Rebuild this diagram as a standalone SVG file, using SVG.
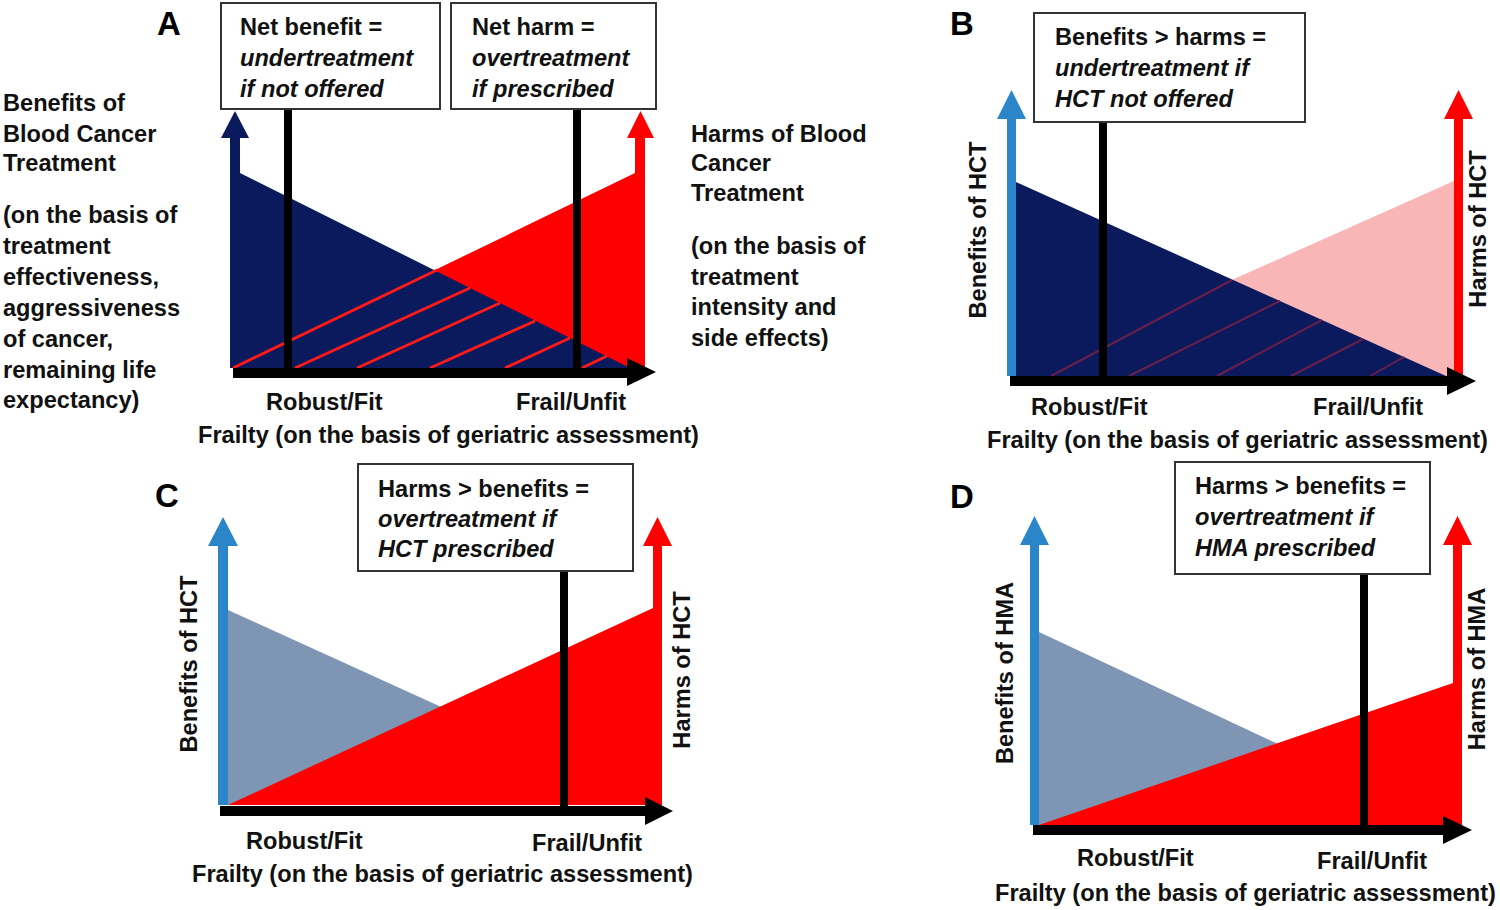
<svg xmlns="http://www.w3.org/2000/svg" width="1500" height="910" viewBox="0 0 1500 910">
<style>
.t{font-family:"Liberation Sans",Arial,Helvetica,sans-serif;font-weight:bold;font-size:23.6px;fill:#111}
.i{font-style:italic}
.lbl{font-family:"Liberation Sans",Arial,Helvetica,sans-serif;font-weight:bold;font-size:33px;fill:#000}
.box{fill:#fff;stroke:#333;stroke-width:2}
.stem{stroke:#000;stroke-width:8}
.axis{stroke:#000;stroke-width:10}
.navy{fill:#0a1a5c}
.red{fill:#ff0000}
.lblue{fill:#2a86c8}
.gblue{fill:#7f95b4}
.pink{fill:#f9b6b6}
.hatchA{stroke:#ff1a1a;stroke-width:3}
.hatchB{stroke:#6a1e4c;stroke-width:2}
</style>
<rect width="1500" height="910" fill="#fff"/>

<!-- Panel A -->
<g id="panelA">
  <text class="lbl" x="157" y="35">A</text>
  <g id="A-harms-area">
    <polygon class="red" points="635,138 645,138 645,368 233,368 635,173"/>
    <polygon class="red" points="627,138 654,138 640.5,111"/>
  </g>
  <g id="A-benefits-area">
    <polygon class="navy" points="230,138 240,138 240,173 630,368 230,368"/>
    <polygon class="navy" points="221,138 249,138 235,111"/>
  </g>
  <g id="A-hatch">
    <line class="hatchA" x1="233" y1="368" x2="437" y2="270"/>
    <line class="hatchA" x1="295" y1="368" x2="470" y2="288"/>
    <line class="hatchA" x1="357" y1="368" x2="500" y2="303"/>
    <line class="hatchA" x1="430" y1="368" x2="535" y2="321"/>
    <line class="hatchA" x1="505" y1="368" x2="570" y2="338"/>
    <line class="hatchA" x1="582" y1="368" x2="607" y2="356"/>
  </g>
  <g id="A-connectors">
    <line class="stem" x1="288" y1="109" x2="288" y2="369"/>
    <line class="stem" x1="577" y1="109" x2="577" y2="369"/>
    <line class="axis" x1="233" y1="373" x2="628" y2="373"/>
    <polygon points="627,358 627,386 656,372" fill="#000"/>
  </g>
  <g id="A-box-benefit">
    <rect class="box" x="221" y="3" width="219" height="106"/>
    <text class="t" x="240" y="35">Net benefit =</text>
    <text class="t i" x="240" y="66">undertreatment</text>
    <text class="t i" x="240" y="97">if not offered</text>
  </g>
  <g id="A-box-harm">
    <rect class="box" x="451" y="3" width="205" height="106"/>
    <text class="t" x="472" y="35">Net harm =</text>
    <text class="t i" x="472" y="66">overtreatment</text>
    <text class="t i" x="472" y="97">if prescribed</text>
  </g>
  <g id="A-left-label">
    <text class="t" x="3" y="111">Benefits of</text>
    <text class="t" x="3" y="142">Blood Cancer</text>
    <text class="t" x="3" y="171">Treatment</text>
    <text class="t" x="3" y="223">(on the basis of</text>
    <text class="t" x="3" y="254">treatment</text>
    <text class="t" x="3" y="285">effectiveness,</text>
    <text class="t" x="3" y="316">aggressiveness</text>
    <text class="t" x="3" y="347">of cancer,</text>
    <text class="t" x="3" y="378">remaining life</text>
    <text class="t" x="3" y="408">expectancy)</text>
  </g>
  <g id="A-right-label">
    <text class="t" x="691" y="142">Harms of Blood</text>
    <text class="t" x="691" y="171">Cancer</text>
    <text class="t" x="691" y="201">Treatment</text>
    <text class="t" x="691" y="254">(on the basis of</text>
    <text class="t" x="691" y="285">treatment</text>
    <text class="t" x="691" y="315">intensity and</text>
    <text class="t" x="691" y="346">side effects)</text>
  </g>
  <g id="A-axis-labels">
    <text class="t" x="266" y="410">Robust/Fit</text>
    <text class="t" x="516" y="410">Frail/Unfit</text>
    <text class="t" x="198" y="443">Frailty (on the basis of geriatric assessment)</text>
  </g>
</g>

<!-- Panel B -->
<g id="panelB">
  <text class="lbl" x="950" y="35">B</text>
  <g id="B-harms-area">
    <polygon class="pink" points="1016,376 1454,181 1454,376"/>
    <rect class="red" x="1454" y="119" width="9" height="257"/>
    <polygon class="red" points="1444,119 1473,119 1458.5,90"/>
  </g>
  <g id="B-benefits-area">
    <rect class="lblue" x="1007" y="119" width="9" height="257"/>
    <polygon class="lblue" points="997,119 1026,119 1011.5,90"/>
    <polygon class="navy" points="1016,182 1446,376 1016,376"/>
  </g>
  <g id="B-hatch">
    <line class="hatchB" x1="1051" y1="376" x2="1232" y2="280"/>
    <line class="hatchB" x1="1129" y1="376" x2="1280" y2="301"/>
    <line class="hatchB" x1="1217" y1="376" x2="1322" y2="320"/>
    <line class="hatchB" x1="1291" y1="376" x2="1363" y2="339"/>
    <line class="hatchB" x1="1370" y1="376" x2="1404" y2="357"/>
  </g>
  <g id="B-connectors">
    <line class="stem" x1="1103" y1="123" x2="1103" y2="377"/>
    <line class="axis" x1="1010" y1="381" x2="1448" y2="381"/>
    <polygon points="1447,367 1447,395 1476,381" fill="#000"/>
  </g>
  <g id="B-box">
    <rect class="box" x="1034" y="13" width="271" height="109"/>
    <text class="t" x="1055" y="45">Benefits &gt; harms =</text>
    <text class="t i" x="1055" y="76">undertreatment if</text>
    <text class="t i" x="1055" y="107">HCT not offered</text>
  </g>
  <g id="B-labels">
    <text class="t" text-anchor="middle" transform="translate(986,230) rotate(-90)">Benefits of HCT</text>
    <text class="t" text-anchor="middle" transform="translate(1486,229) rotate(-90)">Harms of HCT</text>
    <text class="t" x="1031" y="415">Robust/Fit</text>
    <text class="t" x="1313" y="415">Frail/Unfit</text>
    <text class="t" x="987" y="448">Frailty (on the basis of geriatric assessment)</text>
  </g>
</g>

<!-- Panel C -->
<g id="panelC">
  <text class="lbl" x="155" y="507">C</text>
  <g id="C-benefits-area">
    <rect class="lblue" x="218" y="546" width="10" height="259"/>
    <polygon class="lblue" points="208,546 238,546 223,517"/>
    <polygon class="gblue" points="228,610 657,805 228,805"/>
  </g>
  <g id="C-harms-area">
    <polygon class="red" points="228,805 653,608 653,805"/>
    <rect class="red" x="653" y="546" width="9" height="259"/>
    <polygon class="red" points="643,546 672,546 657.5,517"/>
  </g>
  <g id="C-connectors">
    <line class="stem" x1="564" y1="570" x2="564" y2="806"/>
    <line class="axis" x1="220" y1="811" x2="646" y2="811"/>
    <polygon points="645,797 645,825 673,811" fill="#000"/>
  </g>
  <g id="C-box">
    <rect class="box" x="358" y="464" width="275" height="107"/>
    <text class="t" x="378" y="497">Harms &gt; benefits =</text>
    <text class="t i" x="378" y="527">overtreatment if</text>
    <text class="t i" x="378" y="557">HCT prescribed</text>
  </g>
  <g id="C-labels">
    <text class="t" text-anchor="middle" transform="translate(197,664) rotate(-90)">Benefits of HCT</text>
    <text class="t" text-anchor="middle" transform="translate(690,670) rotate(-90)">Harms of HCT</text>
    <text class="t" x="246" y="849">Robust/Fit</text>
    <text class="t" x="532" y="851">Frail/Unfit</text>
    <text class="t" x="192" y="882">Frailty (on the basis of geriatric assessment)</text>
  </g>
</g>

<!-- Panel D -->
<g id="panelD">
  <text class="lbl" x="950" y="508">D</text>
  <g id="D-benefits-area">
    <rect class="lblue" x="1030" y="545" width="9" height="280"/>
    <polygon class="lblue" points="1020,545 1049,545 1034.5,516"/>
    <polygon class="gblue" points="1039,632 1451,825 1039,825"/>
  </g>
  <g id="D-harms-area">
    <polygon class="red" points="1039,825 1453,683 1453,825"/>
    <rect class="red" x="1453" y="545" width="9" height="280"/>
    <polygon class="red" points="1443,545 1472,545 1457.5,516"/>
  </g>
  <g id="D-connectors">
    <line class="stem" x1="1364" y1="573" x2="1364" y2="826"/>
    <line class="axis" x1="1033" y1="830" x2="1444" y2="830"/>
    <polygon points="1443,816 1443,844 1472,830" fill="#000"/>
  </g>
  <g id="D-box">
    <rect class="box" x="1175" y="462" width="255" height="112"/>
    <text class="t" x="1195" y="494">Harms &gt; benefits =</text>
    <text class="t i" x="1195" y="525">overtreatment if</text>
    <text class="t i" x="1195" y="556">HMA prescribed</text>
  </g>
  <g id="D-labels">
    <text class="t" text-anchor="middle" transform="translate(1013,673) rotate(-90)">Benefits of HMA</text>
    <text class="t" text-anchor="middle" transform="translate(1485,669) rotate(-90)">Harms of HMA</text>
    <text class="t" x="1077" y="866">Robust/Fit</text>
    <text class="t" x="1317" y="869">Frail/Unfit</text>
    <text class="t" x="995" y="901">Frailty (on the basis of geriatric assessment)</text>
  </g>
</g>
</svg>
